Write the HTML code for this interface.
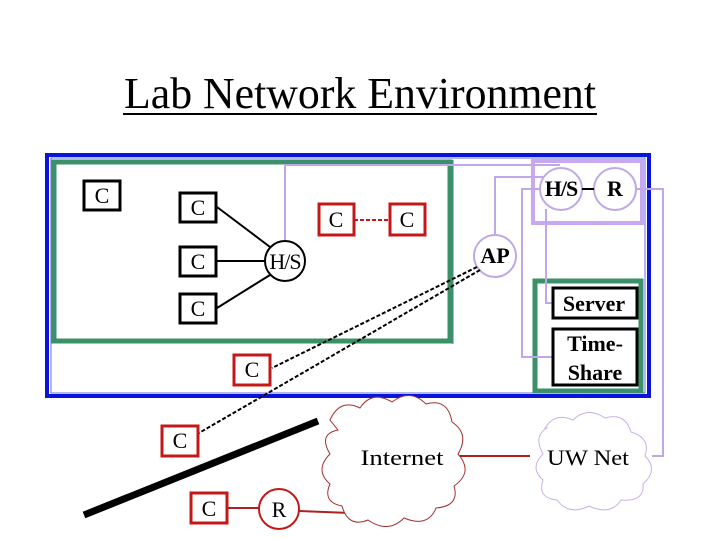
<!DOCTYPE html>
<html><head><style>
body{margin:0;background:#fff;}
svg{display:block;font-family:"Liberation Serif",serif;}
</style></head><body>
<svg width="720" height="540" viewBox="0 0 720 540">
<text x="360" y="108" font-size="44" text-anchor="middle" textLength="472" lengthAdjust="spacingAndGlyphs">Lab Network Environment</text>
<line x1="123" y1="114" x2="597" y2="114" stroke="#000" stroke-width="2"/>
<rect x="47" y="155" width="602" height="241" fill="none" stroke="#0a14d8" stroke-width="4"/>
<rect x="51" y="158" width="594" height="235" fill="none" stroke="#6a70e0" stroke-width="1"/>
<rect x="54" y="162" width="396" height="179" fill="none" stroke="#3a9068" stroke-width="5"/>
<line x1="453" y1="160" x2="453" y2="344" stroke="#3a9068" stroke-width="1"/>
<rect x="535" y="281" width="106" height="110" fill="none" stroke="#3a9068" stroke-width="5"/>
<rect x="533" y="161" width="109" height="62" fill="#fff" stroke="#c8a8f0" stroke-width="4"/>
<g stroke="#c0a8e8" stroke-width="2" fill="none">
<polyline points="285,241 285,165 560,165"/>
<polyline points="495,234 495,177 545,177"/>
<polyline points="540,189 522,189 522,357 553,357"/>
<polyline points="546,209 546,303 553,303"/>
<polyline points="636,189 663,189 663,456 652,456"/>
</g>
<g fill="#fff" stroke="#c0a8e8" stroke-width="2">
<circle cx="561" cy="189" r="21"/><circle cx="615" cy="189" r="21"/><circle cx="495" cy="256" r="21"/>
</g>
<line x1="582" y1="189" x2="594" y2="189" stroke="#000" stroke-width="2"/>
<g stroke="#000" stroke-width="2">
<line x1="217" y1="207" x2="270" y2="247"/>
<line x1="217" y1="261" x2="265" y2="261"/>
<line x1="217" y1="308" x2="270" y2="275"/>
</g>
<circle cx="285" cy="261" r="20" fill="#fff" stroke="#000" stroke-width="2"/>
<g stroke="#000" stroke-width="2" stroke-dasharray="4,2">
<line x1="477" y1="267" x2="272" y2="368"/>
<line x1="480" y1="270" x2="199" y2="433"/>
</g>
<line x1="354" y1="220" x2="389" y2="220" stroke="#c41818" stroke-width="2" stroke-dasharray="4,2"/>
<g fill="#fff" stroke="#000" stroke-width="3">
<rect x="84" y="181" width="36" height="29"/>
<rect x="180" y="193" width="36" height="29"/>
<rect x="180" y="247" width="36" height="29"/>
<rect x="180" y="294" width="36" height="29"/>
<rect x="553" y="288" width="84" height="30"/>
<rect x="553" y="329" width="84" height="56"/>
</g>
<g fill="#fff" stroke="#c41818" stroke-width="3">
<rect x="319" y="204" width="35" height="31"/>
<rect x="390" y="204" width="35" height="31"/>
<rect x="234" y="355" width="36" height="30"/>
<rect x="162" y="426" width="36" height="30"/>
<rect x="191" y="493" width="36" height="30"/>
</g>
<line x1="84" y1="515" x2="318" y2="421" stroke="#000" stroke-width="7"/>
<g stroke="#b02020" stroke-width="2">
<line x1="227" y1="508" x2="259" y2="508"/>
<line x1="299" y1="511" x2="400" y2="515"/>
<line x1="455" y1="456" x2="530" y2="456"/>
</g>
<circle cx="279" cy="509" r="20" fill="#fff" stroke="#c41818" stroke-width="2"/>
<path d="M330,420 q10,-22 30,-12 q12,-18 32,-6 q18,-14 34,2 q22,-6 26,18 q18,12 6,32 q16,18 -4,32 q6,20 -18,22 q-8,20 -32,10 q-16,16 -36,2 q-20,8 -26,-14 q-20,-4 -12,-22 q-16,-14 0,-30 q-12,-20 8,-24 z" fill="#fff" stroke="#a03030" stroke-width="1"/>
<path d="M545,428 q10,-16 28,-8 q14,-14 32,-2 q20,-6 26,14 q20,6 14,24 q14,14 -2,28 q2,18 -22,16 q-10,16 -32,6 q-20,10 -32,-6 q-20,-2 -14,-20 q-14,-12 0,-26 q-10,-18 4,-26 z" fill="#fff" stroke="#c8b0e8" stroke-width="1"/>
<g font-size="22" text-anchor="middle">
<text x="102" y="203">C</text>
<text x="198" y="215">C</text>
<text x="198" y="269">C</text>
<text x="198" y="316">C</text>
<text x="336" y="227">C</text>
<text x="407" y="227">C</text>
<text x="252" y="377">C</text>
<text x="180" y="448">C</text>
<text x="209" y="516">C</text>
<text x="279" y="517">R</text>
<text x="285" y="269" letter-spacing="-1">H/S</text>
<text x="402" y="465" textLength="83" lengthAdjust="spacingAndGlyphs">Internet</text>
<text x="588" y="465" textLength="82" lengthAdjust="spacingAndGlyphs">UW Net</text>
</g>
<g font-size="22" text-anchor="middle" font-weight="bold">
<text x="561" y="196" letter-spacing="-1">H/S</text>
<text x="615" y="196">R</text>
<text x="495" y="263">AP</text>
<text x="594" y="311">Server</text>
<text x="595" y="351">Time-</text>
<text x="595" y="380">Share</text>
</g>
</svg>
</body></html>
